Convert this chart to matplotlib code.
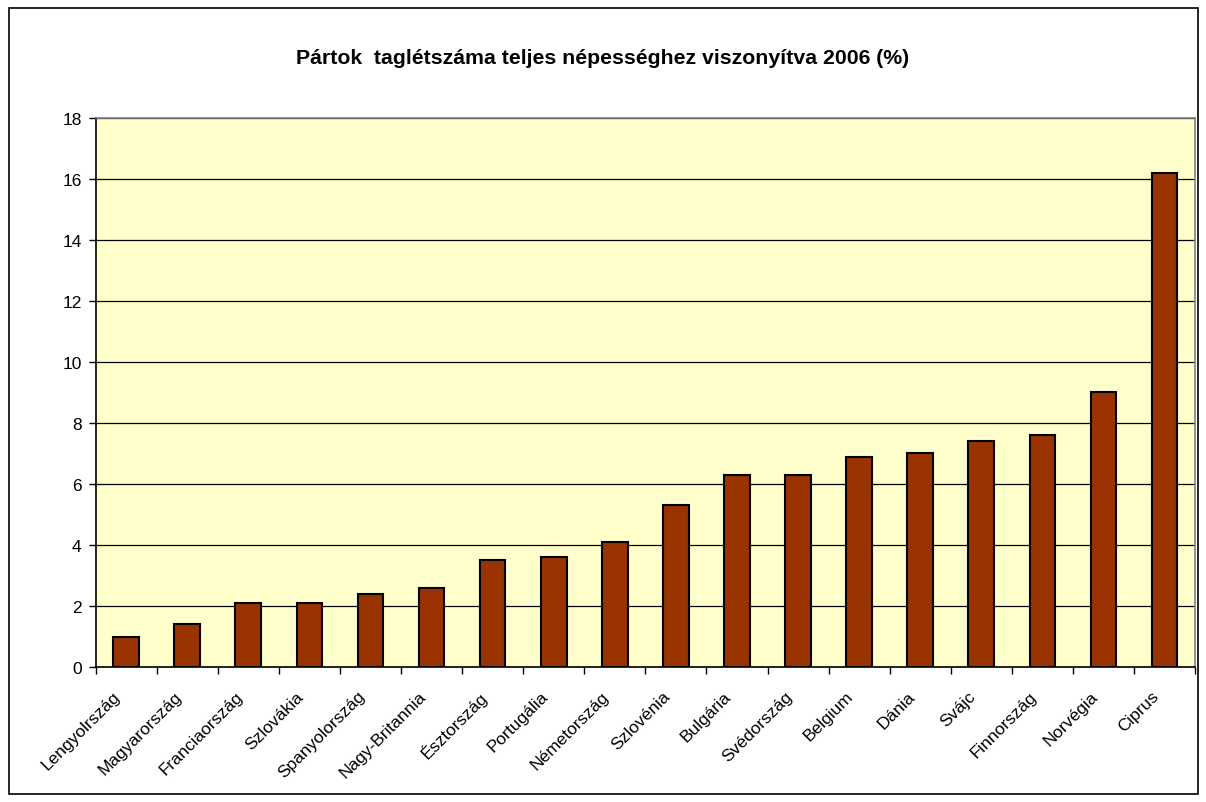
import matplotlib.pyplot as plt
import matplotlib.transforms as mtransforms
import numpy as np
from matplotlib.patches import Rectangle

plt.rcParams['font.family'] = ['Liberation Sans', 'DejaVu Sans']

countries = ['Lengyolrszág', 'Magyarország', 'Franciaország', 'Szlovákia',
             'Spanyolország', 'Nagy-Britannia', 'Észtország', 'Portugália',
             'Németország', 'Szlovénia', 'Bulgária', 'Svédország', 'Belgium',
             'Dánia', 'Svájc', 'Finnország', 'Norvégia', 'Ciprus']
values = [1.0, 1.4, 2.1, 2.1, 2.4, 2.6, 3.5, 3.6, 4.1, 5.3, 6.3, 6.3,
          6.9, 7.0, 7.4, 7.6, 9.0, 16.2]
yticks = [0, 2, 4, 6, 8, 10, 12, 14, 16, 18]

fig = plt.figure(figsize=(12.06, 8.03), dpi=100)
ax = fig.add_axes([0.0792, 0.168, 0.9118, 0.684])

x = np.arange(len(countries))
ax.bar(x, values, width=0.42, color='#993300', edgecolor='black', linewidth=1.5, zorder=3)

ax.set_facecolor('#FFFFCC')
ax.set_xlim(-0.5, len(countries) - 0.5)
ax.set_ylim(0, 18)
ax.set_yticks(yticks)
ax.yaxis.grid(True, color='black', linewidth=0.9)
ax.set_axisbelow(True)

# category labels centred, tick marks at category boundaries
ax.set_xticks(x)
ax.set_xticklabels(countries, rotation=45, ha='right', va='center',
                   rotation_mode='anchor', fontsize=12.5)
ax.tick_params(axis='x', which='major', length=0, pad=19)
ax.set_xticks(np.arange(-0.5, len(countries)), minor=True)
ax.tick_params(axis='x', which='minor', length=5, width=1, direction='out')
ax.tick_params(axis='y', length=5, width=1, direction='out', labelsize=12.5, pad=5)

# nudge rotated labels a little to the left
shift = mtransforms.ScaledTranslation(-8 / 100, 0, fig.dpi_scale_trans)
for lbl in ax.get_xticklabels():
    lbl.set_transform(lbl.get_transform() + shift)

for side in ['top', 'right']:
    ax.spines[side].set_color('#808080')
    ax.spines[side].set_linewidth(1.2)
for side in ['left', 'bottom']:
    ax.spines[side].set_color('black')
    ax.spines[side].set_linewidth(1.2)

fig.text(0.5, 0.927, 'Pártok  taglétszáma teljes népességhez viszonyítva 2006 (%)',
         ha='center', va='center', fontsize=15.3, fontweight='bold')

fig.patches.append(Rectangle((0.0075, 0.01), 0.986, 0.979, transform=fig.transFigure,
                             fill=False, edgecolor='black', linewidth=1.2))

fig.savefig('out.png', dpi=100)
